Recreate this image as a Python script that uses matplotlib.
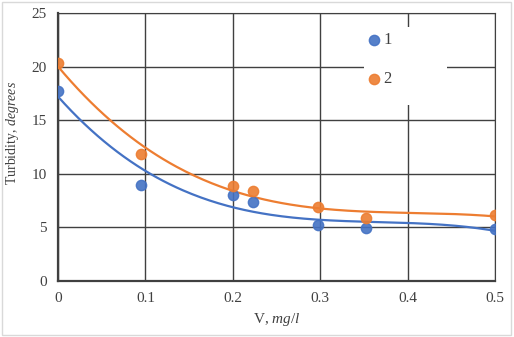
import numpy as np
import matplotlib.pyplot as plt
from matplotlib.patches import Rectangle

plt.rcParams['font.family'] = 'Liberation Serif'
plt.rcParams['mathtext.fontset'] = 'custom'
plt.rcParams['mathtext.it'] = 'Liberation Serif:italic'
plt.rcParams['mathtext.rm'] = 'Liberation Serif'

x1 = [0, 0.095, 0.2, 0.223, 0.297, 0.352, 0.5]
y1 = [17.7, 8.95, 8.0, 7.35, 5.2, 4.95, 4.85]
x2 = [0, 0.095, 0.2, 0.223, 0.297, 0.352, 0.5]
y2 = [20.3, 11.85, 8.85, 8.4, 6.9, 5.85, 6.15]
labels = ['1', '2']

blue = '#4472C4'
orange = '#ED7D31'

def main():
	fig = plt.figure(figsize=(5.14, 3.37), dpi=100)
	ax = fig.add_axes([0.1128, 0.1662, 0.8502, 0.7952])

	xs = np.linspace(0, 0.5, 200)
	for xd, yd, c in [(x1, y1, blue), (x2, y2, orange)]:
		p = np.polyfit(xd, yd, 3)
		ax.plot(xs, np.polyval(p, xs), color=c, lw=1.6, zorder=3)

	ax.scatter(x1, y1, s=55, color=blue, alpha=0.9, zorder=4, label=labels[0])
	ax.scatter(x2, y2, s=55, color=orange, alpha=0.9, zorder=4, label=labels[1])

	ax.set_xlim(0, 0.5)
	ax.set_ylim(0, 25)
	ax.set_xticks([0, 0.1, 0.2, 0.3, 0.4, 0.5])
	ax.set_xticklabels(['0', '0.1', '0.2', '0.3', '0.4', '0.5'])
	ax.set_yticks([0, 5, 10, 15, 20, 25])
	ax.tick_params(length=0, labelsize=11, colors='#404040', pad=8)
	ax.grid(True, color='#404040', lw=1)
	ax.set_axisbelow(True)
	for s in ax.spines.values():
		s.set_color('#404040')
	ax.spines['left'].set_linewidth(1.6)
	ax.spines['bottom'].set_linewidth(1.6)

	ax.set_xlabel('V, $mg/l$', fontsize=11, color='#404040', labelpad=4)
	ax.set_ylabel('Turbidity, $degrees$', fontsize=10, color='#404040')
	ax.yaxis.set_label_coords(-0.085, 0.552)

	# white legend area covering the grid
	ax.add_patch(Rectangle((364/514, 1 - 105/337), 83/514, 78/337, transform=fig.transFigure,
		facecolor='white', edgecolor='none', zorder=1))

	leg = ax.legend(loc='upper left', bbox_to_anchor=(0.7146, 0.905), bbox_transform=fig.transFigure,
		frameon=False, fontsize=12, scatterpoints=1, handletextpad=0.15, labelspacing=1.38,
		borderpad=0, borderaxespad=0, handlelength=0.8)
	for t in leg.get_texts():
		t.set_color('#404040')

	fig.patches.append(Rectangle((0.004, 0.006), 0.99, 0.988, transform=fig.transFigure,
		fill=False, edgecolor='#d9d9d9', lw=1))

	fig.savefig('out.png', dpi=100)

if __name__ == '__main__':
	main()
